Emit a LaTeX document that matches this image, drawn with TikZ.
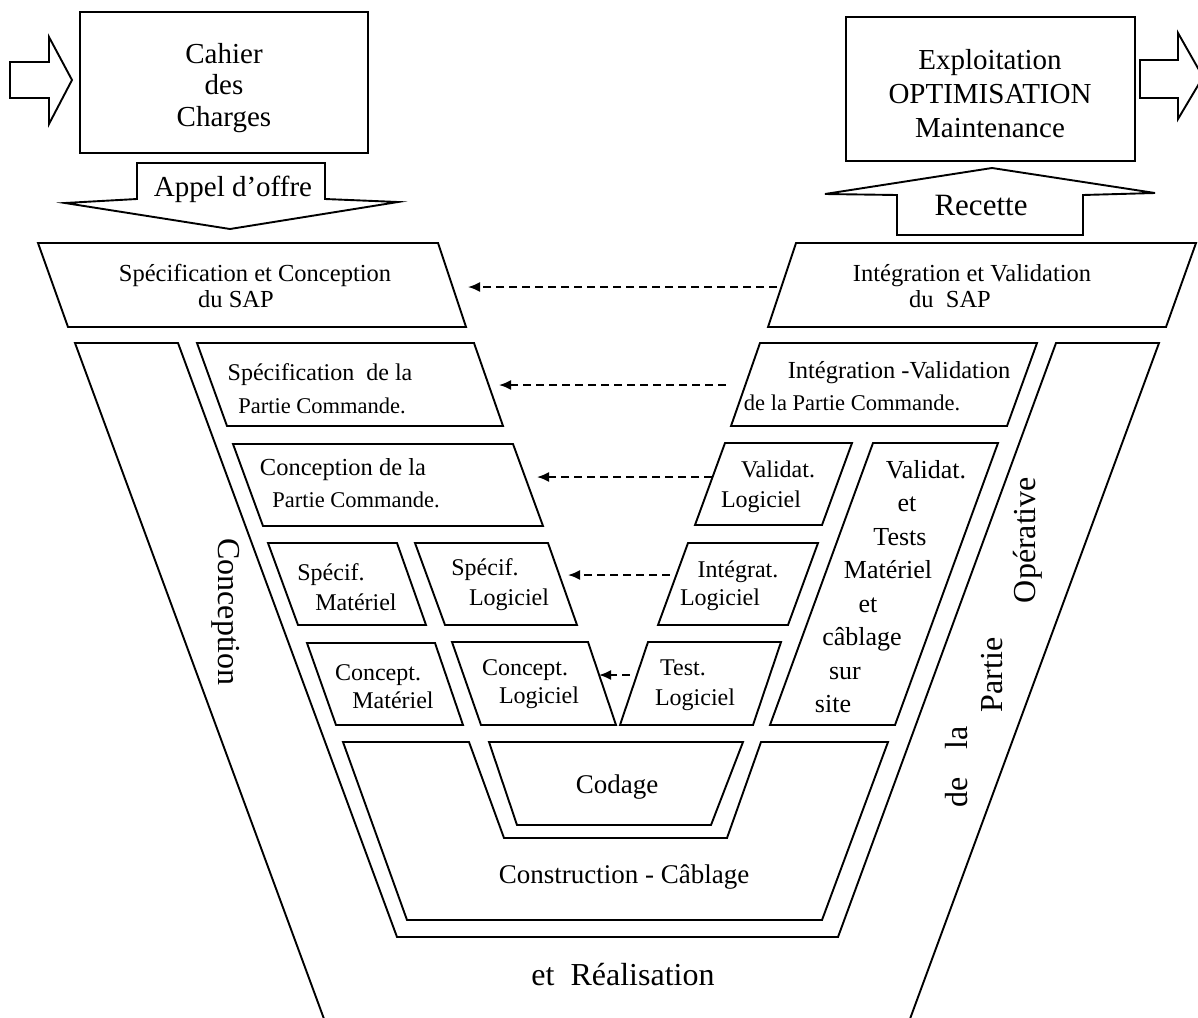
\documentclass[tikz,border=0pt]{standalone}
\usepackage{fontspec}
\setmainfont{Liberation Serif}
\usetikzlibrary{arrows.meta}
\begin{document}
\begin{tikzpicture}[x=1pt,y=-1pt,
  outline/.style={draw=black, line width=1.9pt, line join=miter},
  link/.style={draw=black, line width=1.8pt, dash pattern=on 8pt off 5pt,
               -{Latex[length=12pt,width=10pt]}},
  lbl/.style={anchor=base, inner sep=0pt},
  fbig/.style={font=\fontsize{29pt}{34pt}\selectfont},
  fmid/.style={font=\fontsize{24.5pt}{29pt}\selectfont},
  fsmall/.style={font=\fontsize{22.5pt}{27pt}\selectfont},
  fbox/.style={font=\fontsize{24pt}{28pt}\selectfont},
  ftall/.style={font=\fontsize{26pt}{30pt}\selectfont},
  flow/.style={font=\fontsize{27pt}{32pt}\selectfont},
  fband/.style={font=\fontsize{32pt}{36pt}\selectfont},
  vert/.style={anchor=center, inner sep=0pt}
]
\fill[white] (0,0) rectangle (1198,1017);
\useasboundingbox (0,0) rectangle (1198,1017);
\clip (0,0) rectangle (1198,1017);

% ---------- top: input and output ----------
\draw[outline] (10,62) -- (49,62) -- (49,37) -- (72,80) -- (49,124) -- (49,98) -- (10,98) -- cycle;
\draw[outline] (80,12) rectangle (368,153);
\node[lbl,fbig] (cdc1) at (224,63) {Cahier};
\node[lbl,fbig] (cdc2) at (224,94) {des};
\node[lbl,fbig] (cdc3) at (224,126) {Charges};

\draw[outline] (137,163) -- (325,163) -- (325,199) -- (398,202) -- (230,229) -- (65,203) -- (137,199) -- cycle;
\node[lbl,fbig] (appel) at (233,196) {Appel d’offre};

\draw[outline] (846,17) rectangle (1135,161);
\node[lbl,fbig] (exp1) at (990,69) {Exploitation};
\node[lbl,fbig] (exp2) at (990,103) {OPTIMISATION};
\node[lbl,fbig] (exp3) at (990,137) {Maintenance};
\draw[outline] (1140,60) -- (1178,60) -- (1178,33) -- (1203,77) -- (1178,119) -- (1178,98) -- (1140,98) -- cycle;

\draw[outline] (897,235) -- (897,195) -- (825,194) -- (992,168) -- (1155,193) -- (1083,195) -- (1083,235) -- cycle;
\node[lbl,font=\fontsize{31pt}{36pt}\selectfont] (recette) at (981,215) {Recette};

% ---------- V band ----------
\draw[outline] (327,1027) -- (75,343) -- (178,343) -- (397,937) -- (838,937)
               -- (1056,343) -- (1159,343) -- (907,1027);
\node[vert,fband,rotate=-90] (bandL) at (226,612) {Conception};
\node[vert,fband,rotate=90] (bandR1) at (1028,540) {Opérative};
\node[vert,fband,rotate=90] (bandR2) at (992,675) {Partie};
\node[vert,fband,rotate=90] (bandR3) at (957,767) {de\hspace{28pt}la};
\node[lbl,fband] (real) at (623,985) {et\hspace{16pt}Réalisation};

% ---------- row 1 ----------
\draw[outline] (38,243) -- (438,243) -- (466,327) -- (68,327) -- cycle;
\node[lbl,fmid] (sc1) at (255,281) {Spécification et Conception};
\node[lbl,fmid] (sc2) at (236,307) {du SAP};
\draw[outline] (796,243) -- (1196,243) -- (1166,327) -- (768,327) -- cycle;
\node[lbl,fmid] (iv1) at (972,281) {Intégration et Validation};
\node[lbl,fmid] (iv2) at (950,307) {du\ \ SAP};

% ---------- row 2 ----------
\draw[outline] (197,343) -- (474,343) -- (503,426) -- (227,426) -- cycle;
\node[lbl,fbox] (spc1) at (320,380) {Spécification\ \ de la};
\node[lbl,fsmall] (spc2) at (322,413) {Partie Commande.};
\draw[outline] (760,343) -- (1037,343) -- (1007,426) -- (731,426) -- cycle;
\node[lbl,fmid] (ivc1) at (899,378) {Intégration -Validation};
\node[lbl,fsmall] (ivc2) at (852,410) {de la Partie Commande.};

% ---------- row 3 ----------
\draw[outline] (233,444) -- (513,444) -- (543,526) -- (263,526) -- cycle;
\node[lbl,fmid] (cpc1) at (343,475) {Conception de la};
\node[lbl,fsmall] (cpc2) at (356,507) {Partie Commande.};
\draw[outline] (725,443) -- (852,443) -- (822,525) -- (695,525) -- cycle;
\node[lbl,fbox] (vl1) at (778,477) {Validat.};
\node[lbl,fbox] (vl2) at (761,507) {Logiciel};
\draw[outline] (873,443) -- (998,443) -- (895,725) -- (770,725) -- cycle;
\node[lbl,ftall] (vt1) at (926,478) {Validat.};
\node[lbl,ftall] (vt2) at (907,511) {et};
\node[lbl,ftall] (vt3) at (900,545) {Tests};
\node[lbl,ftall] (vt4) at (888,578) {Matériel};
\node[lbl,ftall] (vt5) at (868,612) {et};
\node[lbl,ftall] (vt6) at (862,645) {câblage};
\node[lbl,ftall] (vt7) at (845,679) {sur};
\node[lbl,ftall] (vt8) at (833,712) {site};

% ---------- row 4 ----------
\draw[outline] (268,543) -- (397,543) -- (426,625) -- (298,625) -- cycle;
\node[lbl,fbox] (sm1) at (331,580) {Spécif.};
\node[lbl,fbox] (sm2) at (356,610) {Matériel};
\draw[outline] (415,543) -- (548,543) -- (577,625) -- (445,625) -- cycle;
\node[lbl,fbox] (sl1) at (485,575) {Spécif.};
\node[lbl,fbox] (sl2) at (509,605) {Logiciel};
\draw[outline] (688,543) -- (818,543) -- (788,625) -- (658,625) -- cycle;
\node[lbl,fbox] (il1) at (738,577) {Intégrat.};
\node[lbl,fbox] (il2) at (720,605) {Logiciel};

% ---------- row 5 ----------
\draw[outline] (307,643) -- (435,643) -- (463,725) -- (336,725) -- cycle;
\node[lbl,fbox] (cm1) at (378,680) {Concept.};
\node[lbl,fbox] (cm2) at (393,708) {Matériel};
\draw[outline] (452,642) -- (588,642) -- (616,725) -- (481,725) -- cycle;
\node[lbl,fbox] (cl1) at (525,675) {Concept.};
\node[lbl,fbox] (cl2) at (539,703) {Logiciel};
\draw[outline] (648,642) -- (781,642) -- (753,725) -- (620,725) -- cycle;
\node[lbl,fbox] (tl1) at (683,675) {Test.};
\node[lbl,fbox] (tl2) at (695,705) {Logiciel};

% ---------- bottom: coding and construction ----------
\draw[outline] (343,742) -- (469,742) -- (504,838) -- (727,838) -- (761,742)
               -- (888,742) -- (822,920) -- (407,920) -- cycle;
\draw[outline] (489,742) -- (743,742) -- (711,825) -- (517,825) -- cycle;
\node[lbl,flow] (cod) at (617,793) {Codage};
\node[lbl,flow] (cons) at (624,883) {Construction - Câblage};

% ---------- feedback links ----------
\coordinate (f1s) at (777,287); \coordinate (f1e) at (468,287);
\coordinate (f2s) at (726,385); \coordinate (f2e) at (499,385);
\coordinate (f3s) at (712,477); \coordinate (f3e) at (537,477);
\coordinate (f4s) at (670,575); \coordinate (f4e) at (568,575);
\coordinate (f5s) at (630,675); \coordinate (f5e) at (599,675);
\draw[link] (f1s) -- (f1e);
\draw[link] (f2s) -- (f2e);
\draw[link] (f3s) -- (f3e);
\draw[link] (f4s) -- (f4e);
\draw[link] (f5s) -- (f5e);
\end{tikzpicture}
\end{document}
